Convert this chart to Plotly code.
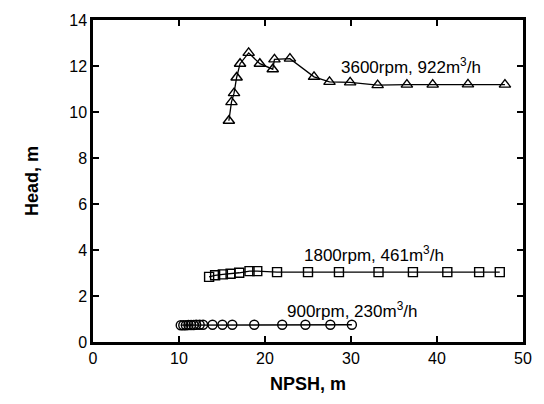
import plotly.graph_objects as go

# 3600 rpm series (triangles)
x3600 = [15.8, 16.1, 16.4, 16.7, 17.1, 18.1, 19.4, 20.9, 21.1, 22.9, 25.7, 27.5, 29.9, 33.1, 36.5, 39.5, 43.6, 47.9]
y3600 = [9.62, 10.43, 10.82, 11.5, 12.1, 12.57, 12.1, 11.86, 12.29, 12.32, 11.53, 11.31, 11.29, 11.17, 11.19, 11.19, 11.2, 11.19]

# 1800 rpm series (squares)
x1800 = [13.5, 14.2, 15.1, 16.0, 17.0, 18.2, 19.1, 21.4, 25.0, 28.6, 33.2, 37.2, 41.2, 44.9, 47.3]
y1800 = [2.83, 2.9, 2.94, 2.97, 3.01, 3.08, 3.08, 3.04, 3.04, 3.04, 3.04, 3.04, 3.04, 3.04, 3.04]

# 900 rpm series (circles)
x900 = [10.2, 10.5, 10.8, 11.1, 11.4, 11.7, 12.0, 12.4, 12.8, 13.9, 15.05, 16.2, 18.75, 22.0, 24.7, 27.6, 30.1]
y900 = [0.73, 0.73, 0.73, 0.74, 0.74, 0.74, 0.75, 0.75, 0.75, 0.75, 0.75, 0.75, 0.75, 0.75, 0.75, 0.75, 0.75]

labels = ["3600rpm, 922m<sup>3</sup>/h", "1800rpm, 461m<sup>3</sup>/h", "900rpm, 230m<sup>3</sup>/h"]
label_x = [37.0, 32.7, 30.15]
label_y = [12.0, 3.81, 1.41]

xticks = [0, 10, 20, 30, 40, 50]
yticks = [0, 2, 4, 6, 8, 10, 12, 14]

FONT = "Liberation Sans, Arial"

fig = go.Figure()
series = [
    (x3600, y3600, "triangle-up-open", 10),
    (x1800, y1800, "square-open", 9),
    (x900, y900, "circle-open", 9),
]
for xs, ys, sym, sz in series:
    fig.add_trace(go.Scatter(
        x=xs, y=ys, mode="lines+markers",
        line=dict(color="black", width=1.3),
        marker=dict(symbol=sym, size=sz, color="black", line=dict(width=1.4, color="black")),
        showlegend=False, cliponaxis=False,
    ))

for t, lx, ly in zip(labels, label_x, label_y):
    fig.add_annotation(x=lx, y=ly, text=t, showarrow=False,
                       font=dict(family=FONT, size=17, color="black"))

axis_common = dict(
    showgrid=False, zeroline=False, showline=True, linecolor="black", linewidth=2.5,
    mirror="allticks", ticks="inside", ticklen=6, tickwidth=2, tickcolor="black",
    tickfont=dict(family=FONT, size=16, color="black"),
)
fig.update_xaxes(range=[0, 50], tickvals=xticks,
                 title=dict(text="<b>NPSH, m</b>", font=dict(family=FONT, size=18, color="black"), standoff=12),
                 **axis_common)
fig.update_yaxes(range=[0, 14], tickvals=yticks,
                 title=dict(text="<b>Head, m</b>", font=dict(family=FONT, size=18, color="black"), standoff=26),
                 **axis_common)

fig.update_layout(
    width=544, height=404,
    margin=dict(l=93, r=19, t=15, b=62),
    plot_bgcolor="white", paper_bgcolor="white",
)
fig.write_html("out.html")
